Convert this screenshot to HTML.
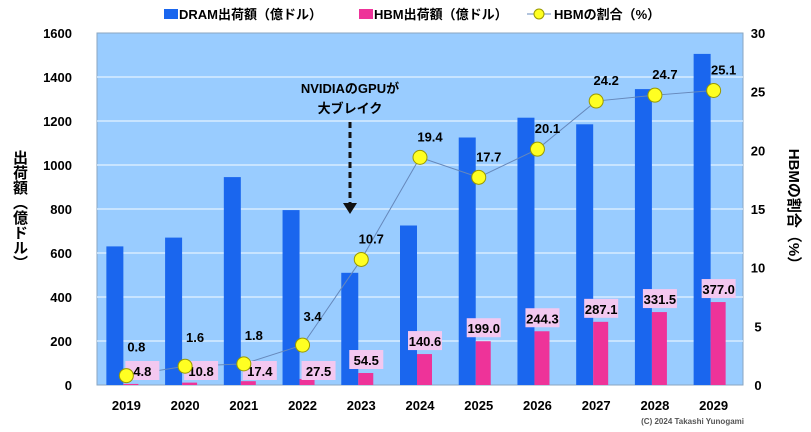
<!DOCTYPE html>
<html><head><meta charset="utf-8"><style>
html,body{margin:0;padding:0;background:#fff;width:811px;height:432px;overflow:hidden;position:relative}
svg text{font-family:"Liberation Sans","Noto Sans CJK JP",sans-serif;font-weight:bold}
#lt{position:absolute;left:10px;top:150px;writing-mode:vertical-rl;font-family:"Liberation Sans","Noto Sans CJK JP",sans-serif;font-weight:bold;font-size:15px;line-height:18px}
</style></head><body>
<svg id="chart" width="811" height="432" viewBox="0 0 811 432"></svg>
<div id="lt">出荷額（億ドル）</div>
<script>
const categories=["2019","2020","2021","2022","2023","2024","2025","2026","2027","2028","2029"];
const dramValues=[630,670,945,795,510,725,1125,1215,1185,1345,1505];
const hbmValues=[4.8,10.8,17.4,27.5,54.5,140.6,199.0,244.3,287.1,331.5,377.0];
const shareValues=[0.8,1.6,1.8,3.4,10.7,19.4,17.7,20.1,24.2,24.7,25.1];
const leftTicks=[0,200,400,600,800,1000,1200,1400,1600];
const rightTicks=[0,5,10,15,20,25,30];

const svg=document.getElementById('chart');
const NS='http://www.w3.org/2000/svg';
const X0=97,X1=743,Y0=385,Y1=33;
const band=(X1-X0)/categories.length;
const xc=i=>X0+band*(i+0.5);
const yL=v=>Y0-(v/1600)*(Y0-Y1);
const yR=v=>Y0-(v/30)*(Y0-Y1);
function mk(tag,a,txt){const e=document.createElementNS(NS,tag);for(const k in a)e.setAttribute(k,a[k]);if(txt!==undefined)e.textContent=txt;svg.appendChild(e);return e;}

let e=mk('rect',{x:X0,y:Y1,width:X1-X0,height:Y0-Y1,fill:'#99ccff',stroke:'#8aa6c0'});


leftTicks.forEach(t=>{
  if(t>0&&t<1600){e=mk('line',{x1:X0,x2:X1,y1:yL(t),y2:yL(t),stroke:'#d8ecff','stroke-width':1.5});
  
  }
  e=mk('text',{x:72,y:yL(t)+5,'text-anchor':'end','font-size':13},t);
  
  
});
rightTicks.forEach(t=>{
  e=mk('text',{x:758,y:yR(t)+5,'text-anchor':'middle','font-size':13},t);
  
  
});
categories.forEach((c,i)=>{
  e=mk('text',{x:xc(i),y:410,'text-anchor':'middle','font-size':13},c);
  
  
  e=mk('rect',{x:xc(i)-20,y:yL(dramValues[i]),width:17,height:Y0-yL(dramValues[i]),fill:'#1a66ee'});
  
  
  e=mk('rect',{x:xc(i)-3,y:yL(hbmValues[i]),width:15,height:Y0-yL(hbmValues[i]),fill:'#ee3399'});
  
  
});
e=mk('polyline',{points:shareValues.map((v,i)=>xc(i)+','+yR(v)).join(' '),fill:'none',stroke:'#6688bb','stroke-width':1});


categories.forEach((c,i)=>{
  const small=hbmValues[i]<40;
  const ly=small?Y0-13:yL(hbmValues[i])-12;
  const cx=xc(i)+(small?16:5);
  e=mk('rect',{x:cx-17,y:ly-11,width:34,height:19,fill:'#f3c8f0'});
  
  
  e=mk('text',{x:cx,y:ly+4,'text-anchor':'middle','font-size':13},hbmValues[i].toFixed(1));
  
  
});
shareValues.forEach((v,i)=>{
  e=mk('circle',{cx:xc(i),cy:yR(v),r:7,fill:'#ffff22',stroke:'#999900','stroke-width':1});
  
  
  const off=v<5?24:16;
  e=mk('text',{x:xc(i)+10,y:yR(v)-off,'text-anchor':'middle','font-size':13},v.toFixed(1));
  
  
});
e=mk('text',{x:350,y:93,'text-anchor':'middle','font-size':13},'NVIDIAのGPUが');


e=mk('text',{x:350,y:113,'text-anchor':'middle','font-size':13},'大ブレイク');


e=mk('line',{x1:350,x2:350,y1:122,y2:204,stroke:'#111','stroke-width':3,'stroke-dasharray':'6,4'});


e=mk('polygon',{points:'343,203 357,203 350,214',fill:'#111'});


e=mk('text',{x:0,y:0,'font-size':15,'text-anchor':'middle',transform:'translate(789,210) rotate(90)'},'HBMの割合（%）');


e=mk('rect',{x:164,y:9,width:14,height:10,fill:'#1a66ee'});


e=mk('text',{x:179,y:19,'font-size':13},'DRAM出荷額（億ドル）');


e=mk('rect',{x:359,y:9,width:14,height:10,fill:'#ee3399'});


e=mk('text',{x:374,y:19,'font-size':13},'HBM出荷額（億ドル）');


e=mk('line',{x1:527,x2:551,y1:14,y2:14,stroke:'#6688bb'});


e=mk('circle',{cx:539,cy:14,r:5,fill:'#ffff22',stroke:'#999900'});


e=mk('text',{x:554,y:19,'font-size':13},'HBMの割合（%）');


e=mk('text',{x:744,y:424,'text-anchor':'end','font-size':8,'font-weight':'normal',fill:'#555'},'(C) 2024 Takashi Yunogami');


</script>
</body></html>
